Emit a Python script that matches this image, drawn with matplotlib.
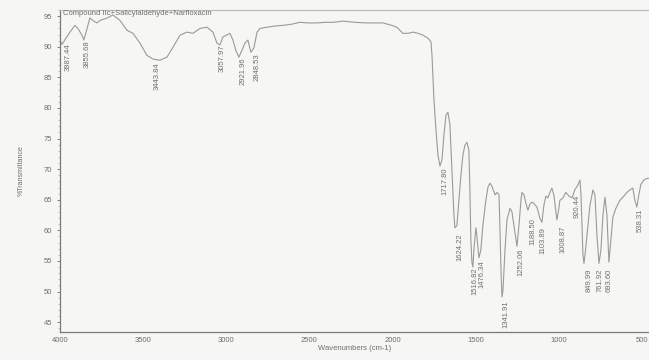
import matplotlib
import numpy as np

matplotlib.use("Agg")
from matplotlib import pyplot as plt
from matplotlib.ticker import MultipleLocator

# traced spectrum: wavenumber (cm-1) and %T
wavenumber = [
    4000, 3988, 3964, 3940, 3910, 3892, 3868, 3856, 3832, 3820, 3802, 3778, 3759, 3717, 3681,
    3639, 3597, 3561, 3519, 3477, 3441, 3399, 3357, 3321, 3278, 3236, 3200, 3158, 3116, 3080,
    3056, 3038, 3020, 2978, 2960, 2942, 2924, 2906, 2888, 2870, 2852, 2834, 2815, 2797, 2755,
    2707, 2659, 2605, 2557, 2509, 2455, 2407, 2358, 2298, 2226, 2154, 2058, 2004, 1974, 1938,
    1907, 1877, 1847, 1817, 1787, 1769, 1763, 1757, 1751, 1739, 1727, 1715, 1703, 1691, 1679,
    1667, 1655, 1643, 1631, 1625, 1613, 1601, 1589, 1577, 1565, 1553, 1541, 1535, 1529, 1523,
    1517, 1511, 1499, 1493, 1481, 1469, 1457, 1439, 1426, 1414, 1402, 1384, 1372, 1360, 1354,
    1348, 1342, 1336, 1324, 1312, 1294, 1282, 1270, 1252, 1240, 1228, 1222, 1210, 1198, 1186,
    1174, 1162, 1150, 1132, 1114, 1102, 1090, 1078, 1066, 1054, 1042, 1030, 1018, 1012, 1000,
    994, 976, 958, 939, 921, 903, 885, 873, 867, 861, 855, 849, 843, 831, 813,
    795, 783, 771, 759, 747, 735, 723, 711, 699, 687, 675, 657, 633, 609, 591,
    573, 555, 543, 531, 519, 507, 489, 471, 459,
]
transmittance = [
    91.1, 90.4, 91.4, 92.4, 93.5, 93.0, 91.9, 91.1, 93.5, 94.7, 94.3, 93.9, 94.3, 94.7, 95.2,
    94.3, 92.7, 92.2, 90.6, 88.6, 88.0, 87.8, 88.3, 89.9, 91.9, 92.4, 92.2, 93.0, 93.2, 92.4,
    90.6, 90.3, 91.6, 92.2, 91.1, 89.4, 88.3, 89.4, 90.6, 91.1, 89.1, 89.8, 92.4, 93.0, 93.2,
    93.4, 93.5, 93.7, 94.0, 93.9, 93.9, 94.0, 94.0, 94.2, 94.0, 93.9, 93.9, 93.5, 93.2, 92.2,
    92.2, 92.4, 92.2, 91.9, 91.4, 90.8, 88.6, 85.0, 81.3, 76.4, 72.3, 70.5, 71.5, 75.6, 78.8,
    79.3, 77.2, 69.8, 62.5, 60.4, 60.8, 64.9, 69.0, 72.3, 73.9, 74.4, 73.1, 66.6, 58.4, 54.8,
    54.0, 56.8, 60.4, 59.2, 55.5, 56.8, 60.8, 64.9, 67.1, 67.7, 67.2, 65.8, 66.2, 65.8, 60.0,
    53.5, 49.1, 50.2, 56.8, 61.7, 63.6, 63.0, 60.8, 57.4, 60.8, 64.9, 66.2, 65.8, 64.4, 63.3,
    64.3, 64.6, 64.4, 63.8, 62.0, 61.3, 64.1, 65.6, 65.3, 66.2, 66.9, 65.8, 63.0, 61.7, 63.6,
    64.9, 65.3, 66.2, 65.6, 65.3, 66.7, 67.4, 68.2, 65.8, 60.8, 55.9, 54.6, 55.9, 59.2, 64.1,
    66.6, 65.8, 59.2, 54.6, 56.8, 62.5, 65.4, 62.5, 54.8, 58.4, 62.2, 63.6, 64.9, 65.6, 66.2,
    66.6, 66.9, 64.9, 63.8, 65.8, 67.5, 68.2, 68.5, 68.5,
]

# peak annotations: text, x position, top of text (%T)
peak_labels = ["3987.44", "3855.68", "3443.84", "3057.97", "2921.96", "2848.53",
               "1717.80", "1624.22", "1516.82", "1476.34", "1341.91", "1252.06",
               "1188.50", "1103.89", "1008.87", "920.44", "849.99", "761.92",
               "693.60", "538.31"]
peak_x = [3952, 3838, 3417, 3026, 2900, 2816,
          1685, 1595, 1505, 1463, 1318, 1228,
          1156, 1096, 975, 891, 819, 753,
          699, 512]
peak_top = [90.6, 91.1, 87.5, 90.3, 88.3, 89.0,
            70.2, 59.5, 54.0, 55.1, 48.6, 57.1,
            62.0, 60.5, 60.8, 65.8, 53.8, 53.8,
            53.8, 63.6]

x_ticks = [4000, 3500, 3000, 2500, 2000, 1500, 1000, 500]
y_ticks = [45, 50, 55, 60, 65, 70, 75, 80, 85, 90, 95]

text_grey = "#6e6e6e"
fonts = ["Liberation Sans Narrow", "Liberation Sans", "DejaVu Sans"]

fig = plt.figure(figsize=(6.49, 3.6), dpi=100, facecolor="#f6f6f4")
axis = fig.add_axes([0.0924, 0.078, 0.9076, 0.894])
axis.set_facecolor("#f6f6f4")

axis.plot(wavenumber, transmittance, color="#9a9a9a", linewidth=0.8)

for text, xpos, top in zip(peak_labels, peak_x, peak_top):
    axis.text(xpos, top, text, rotation=90, ha="center", va="top",
              fontsize=5.5, color="#707070", family=fonts)

axis.text(0.005, 0.988, "Compound IIc+Salicylaldehyde+Narfloxacin", transform=axis.transAxes,
          ha="left", va="center", fontsize=5.5, color=text_grey, family=fonts)

axis.set_xlim(4000, 458)
axis.set_ylim(43.4, 96.0)
axis.set_xticks(x_ticks)
axis.set_yticks(y_ticks)
axis.yaxis.set_minor_locator(MultipleLocator(1))
axis.tick_params(axis="both", labelsize=5.5, colors=text_grey, length=2, width=0.6)
axis.tick_params(axis="y", which="minor", length=1.2, width=0.4, colors="#999999")
axis.tick_params(axis="x", length=0)
for label in axis.get_xticklabels() + axis.get_yticklabels():
    label.set_family(fonts)

axis.set_xlabel("Wavenumbers (cm-1)", fontsize=5.5, color=text_grey, labelpad=1, family=fonts)
axis.set_ylabel("%Transmittance", fontsize=5, color=text_grey, labelpad=14, family=fonts)

for side in ["left", "bottom"]:
    axis.spines[side].set_color("#7a7a7a")
    axis.spines[side].set_linewidth(0.9)
axis.spines["top"].set_color("#b8b8b8")
axis.spines["top"].set_linewidth(0.8)
axis.spines["right"].set_visible(False)

fig.savefig("out.png", dpi=100, facecolor=fig.get_facecolor())
plt.close(fig)
